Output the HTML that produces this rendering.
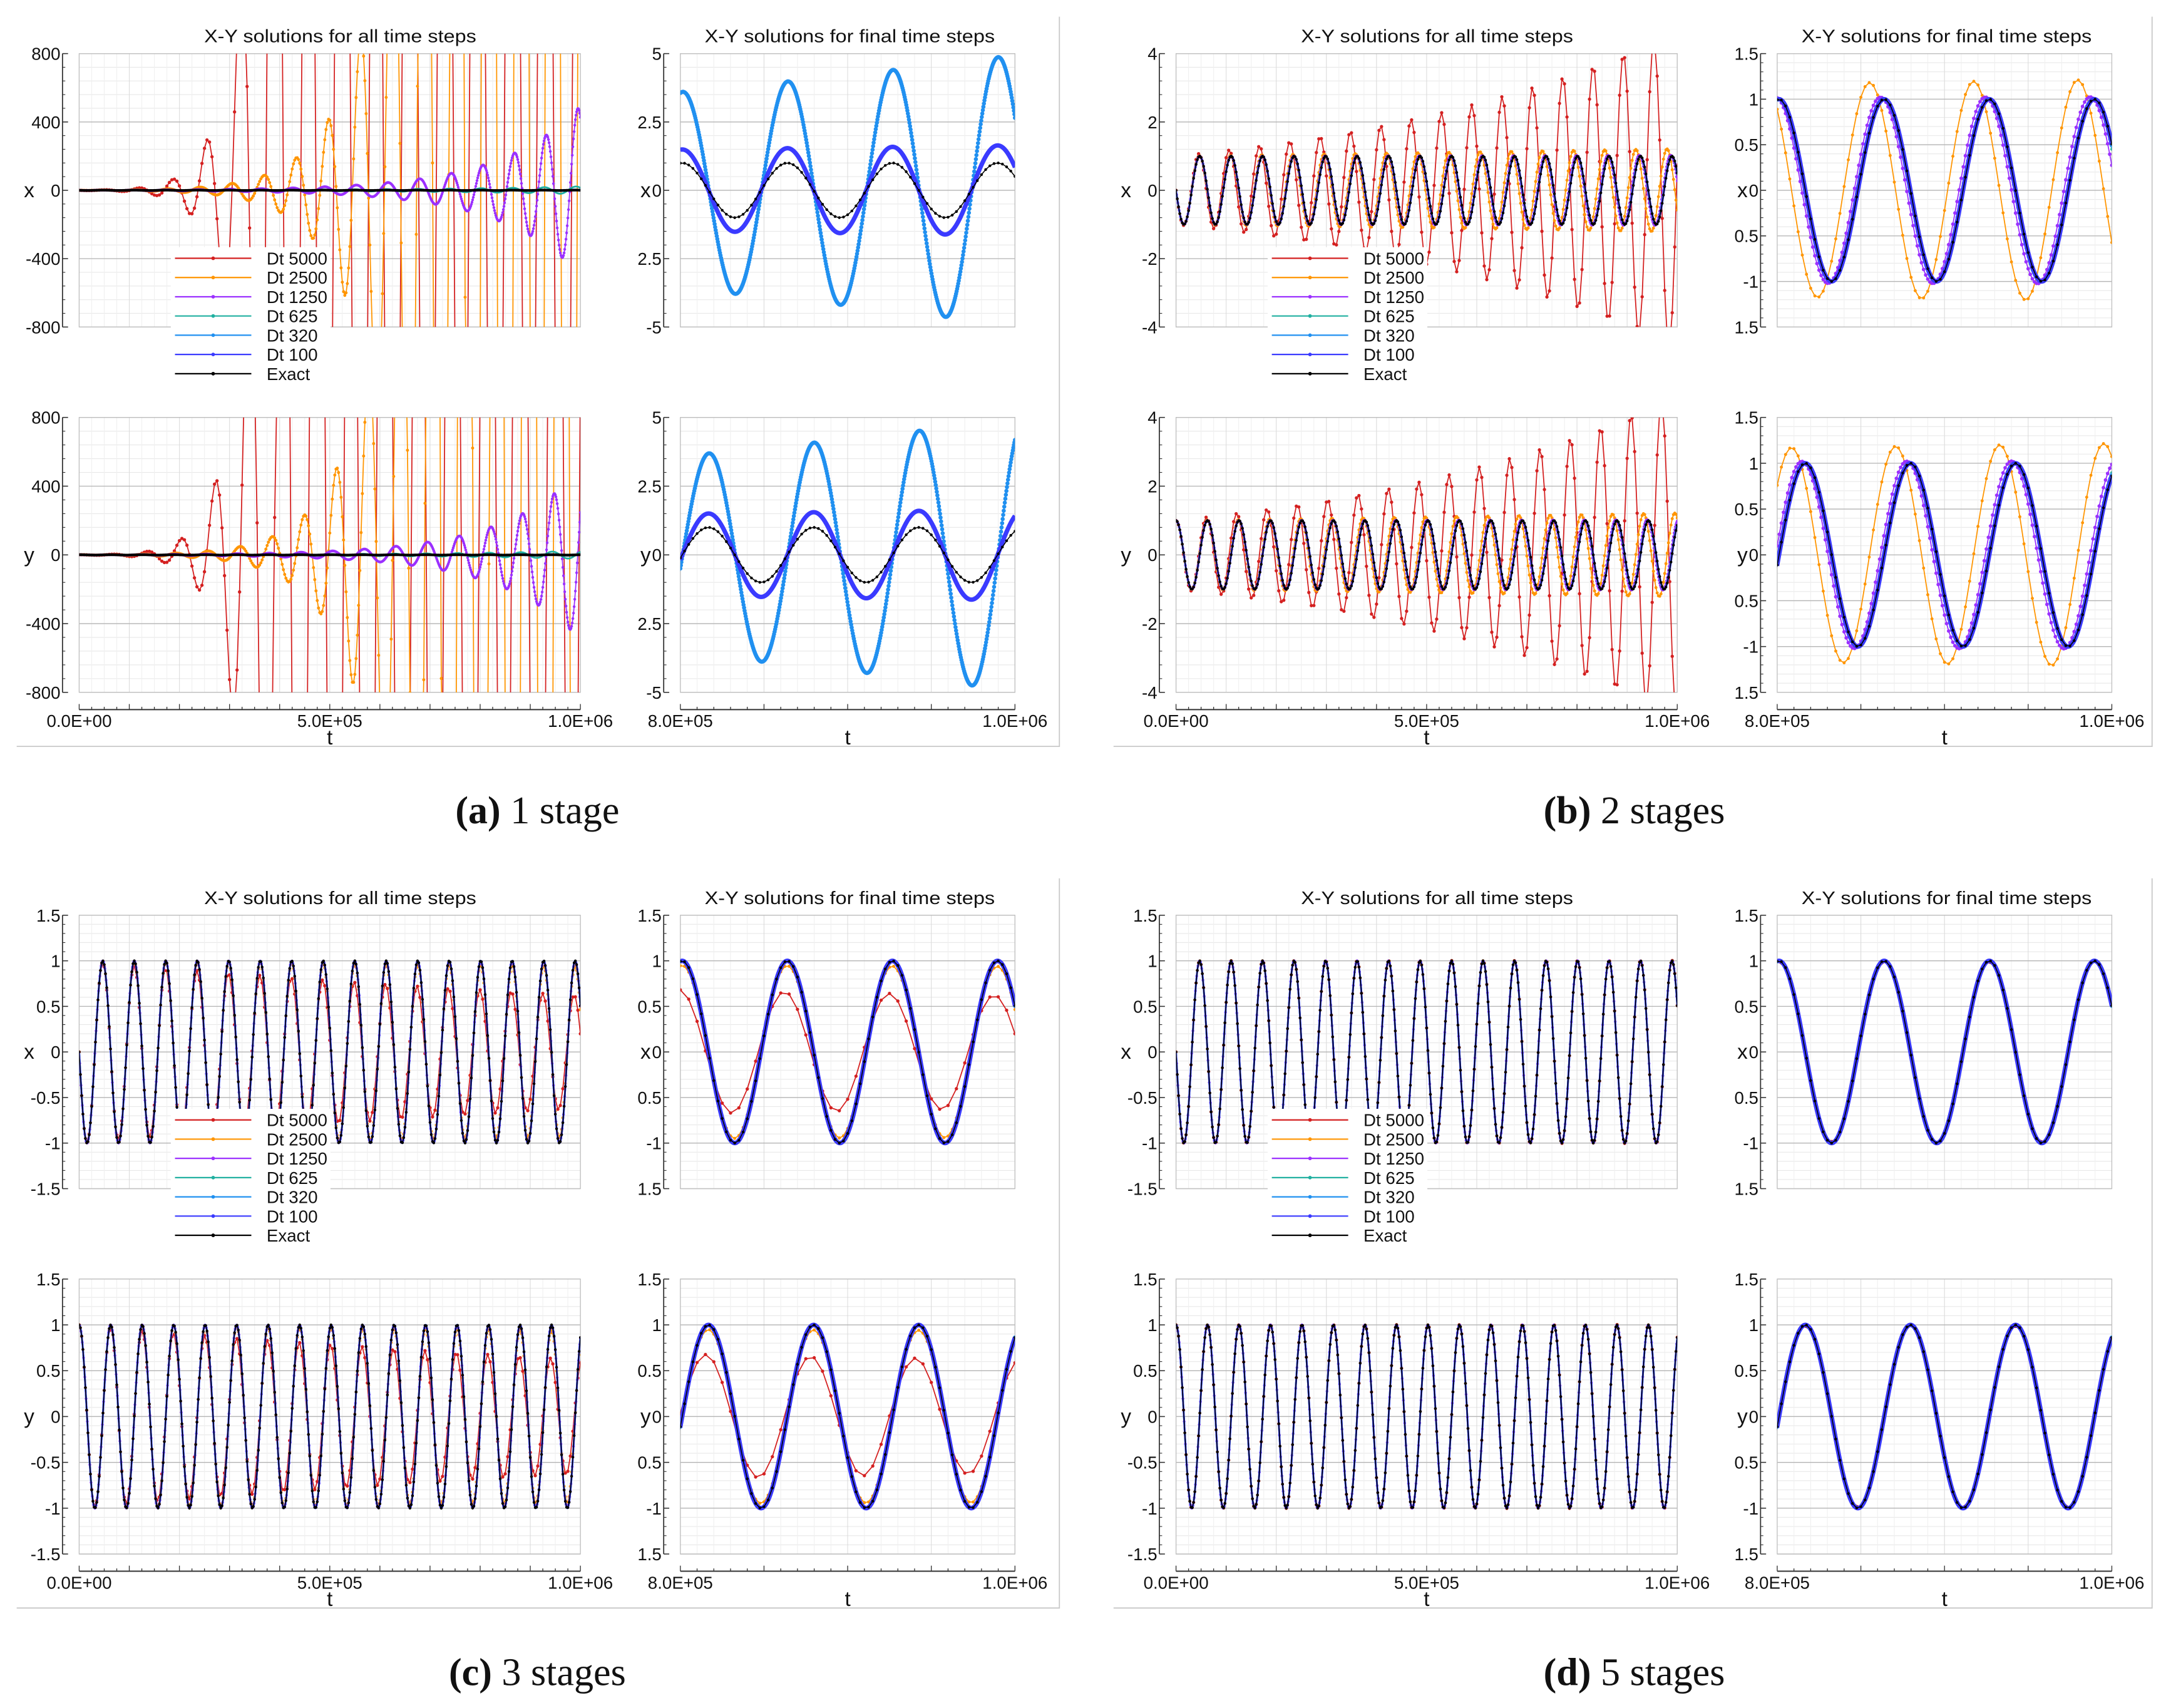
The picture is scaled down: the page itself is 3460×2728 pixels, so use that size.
<!DOCTYPE html>
<html>
<head>
<meta charset="utf-8">
<style>
  html,body{margin:0;padding:0;background:#fff;width:3460px;height:2728px;overflow:hidden;}
  svg{display:block;}
  text{font-family:"Liberation Sans",sans-serif;}
  .cap{font-family:"Liberation Serif",serif;}
</style>
</head>
<body>
<svg id="fig" xmlns="http://www.w3.org/2000/svg" width="3460" height="2728" viewBox="0 0 1560 1230" overflow="hidden"></svg>
<script>
// ---------- data ----------
const seriesNames = ["Dt 5000","Dt 2500","Dt 1250","Dt 625","Dt 320","Dt 100","Exact"];
const dtValues = [5000,2500,1250,625,320,100];
const exactSampleDt = 2500;
const stageCounts = [1,2,3,5];
const panelLetters = ["(a)","(b)","(c)","(d)"];
const panelCaptions = [" 1 stage"," 2 stages"," 3 stages"," 5 stages"];
const omega = 1e-4;
const tStart = 0;
const tEnd = 1e6;
const tFinalStart = 8e5;
const fullTickVals = [[800,400,0,-400,-800],[4,2,0,-2,-4],[1.5,1,0.5,0,-0.5,-1,-1.5],[1.5,1,0.5,0,-0.5,-1,-1.5]];
const fullTickLabels = [["800","400","0","-400","-800"],["4","2","0","-2","-4"],["1.5","1","0.5","0","-0.5","-1","-1.5"],["1.5","1","0.5","0","-0.5","-1","-1.5"]];
const fullMinorStep = [80,0.4,0.1,0.1];
const finalTickVals = [[5,2.5,0,-2.5,-5],[1.5,1,0.5,0,-0.5,-1,-1.5],[1.5,1,0.5,0,-0.5,-1,-1.5],[1.5,1,0.5,0,-0.5,-1,-1.5]];
const finalTickLabels = [["5","2.5","0","2.5","-5"],["1.5","1","0.5","0","0.5","-1","1.5"],["1.5","1","0.5","0","0.5","-1","1.5"],["1.5","1","0.5","0","0.5","-1","1.5"]];
const finalMinorStep = [0.5,0.1,0.1,0.1];
const finalVisibleSeries = [[4,5,6],[1,2,3,4,5,6],[0,1,2,3,4,5,6],[0,1,2,3,4,5,6]];
const fullXTickVals = [0,5e5,1e6];
const fullXTickLabels = ["0.0E+00","5.0E+05","1.0E+06"];
const finalXTickVals = [8e5,1e6];
const finalXTickLabels = ["8.0E+05","1.0E+06"];

// ---------- styles ----------
const colors = ["#d42020","#ff9500","#9b30ff","#20b0a0","#2090f0","#3a3aff","#000000"];
const lineW = [0.8,0.8,0.8,0.8,0.8,1.0,0.7];
const markD = [2.4,2.2,2.6,2.2,3.0,3.2,2.0];

const NS = "http://www.w3.org/2000/svg";
const svg = document.getElementById("fig");
function mk(parent, tag, attrs){
  const e = document.createElementNS(NS, tag);
  for (const k in attrs) e.setAttribute(k, attrs[k]);
  parent.appendChild(e);
  return e;
}

function simulate(stages, dt){
  const w = omega*dt;
  let pr=0, pi=0, tr=1, ti=0;
  for (let k=0;k<=stages;k++){
    pr+=tr; pi+=ti;
    const nr = -ti*w/(k+1), ni = tr*w/(k+1);
    tr=nr; ti=ni;
  }
  const n = Math.round(tEnd/dt);
  const T=[],X=[],Y=[];
  let zr=0, zi=1;
  for (let j=0;j<=n;j++){
    T.push(j*dt); X.push(zr); Y.push(zi);
    const a = zr*pr - zi*pi, b = zr*pi + zi*pr;
    zr=a; zi=b;
  }
  return {T,X,Y};
}
function exactSeries(){
  const T=[],X=[],Y=[];
  for (let t=tStart;t<=tEnd+1;t+=exactSampleDt){T.push(t);X.push(-Math.sin(omega*t));Y.push(Math.cos(omega*t));}
  return {T,X,Y};
}

const panelOffsetX = [0,790,0,790];
const panelOffsetY = [0,0,620.5,620.5];
const fullFrame = {x0:57,x1:418};
const finalFrame = {x0:490,x1:731};
const rowFrames = [{y0:38.6,y1:235.5},{y0:300.6,y1:498.6}];
let clipId = 0;

function drawPlot(g, p, row, kind, data){
  const fr = kind==="full"?fullFrame:finalFrame;
  const rf = rowFrames[row];
  const tv = kind==="full"?fullTickVals[p]:finalTickVals[p];
  const tl = kind==="full"?fullTickLabels[p]:finalTickLabels[p];
  const minor = kind==="full"?fullMinorStep[p]:finalMinorStep[p];
  const yMax = tv[0], yMin = tv[tv.length-1];
  const t0 = kind==="full"?tStart:tFinalStart, t1 = tEnd;
  const sx = t=> fr.x0 + (t-t0)/(t1-t0)*(fr.x1-fr.x0);
  const sy = v=> rf.y0 + (yMax-v)/(yMax-yMin)*(rf.y1-rf.y0);

  const pg = mk(g,"g",{});
  
  

  const nMin = Math.round((yMax-yMin)/minor);
  for (let k=0;k<=nMin;k++){
    const v = yMin + k*minor, y = sy(v);
    const l = mk(pg,"line",{x1:fr.x0,x2:fr.x1,y1:y,y2:y,stroke:"#e8e8e8","stroke-width":0.5});
    
    
    const tk = mk(pg,"line",{x1:fr.x0-12,x2:fr.x0-10,y1:y,y2:y,stroke:"#333","stroke-width":0.5});
    
    
  }
  const vStep = kind==="full"?1e5:5e4, vMinor = kind==="full"?2.5e4:1e4;
  for (let t=t0;t<=t1+1;t+=vMinor){
    const x=sx(t);
    const major = Math.abs((t-t0)/vStep - Math.round((t-t0)/vStep))<1e-6;
    const l = mk(pg,"line",{x1:x,x2:x,y1:rf.y0,y2:rf.y1,stroke:major?"#dcdcdc":"#f0f0f0","stroke-width":0.5});
    
    
  }
  tv.forEach((v,i)=>{
    const y = sy(v);
    const l = mk(pg,"line",{x1:fr.x0,x2:fr.x1,y1:y,y2:y,stroke:"#b4b4b4","stroke-width":0.6});
    
    
    const tk = mk(pg,"line",{x1:fr.x0-12,x2:fr.x0-8,y1:y,y2:y,stroke:"#333","stroke-width":0.7});
    
    
    const tx = mk(pg,"text",{x:fr.x0-13.5,y:y+4.5,"font-size":12.5,"text-anchor":"end",fill:"#111"});
    tx.textContent = tl[i];
    
    
  });
  const fRect = mk(pg,"rect",{x:fr.x0,y:rf.y0,width:fr.x1-fr.x0,height:rf.y1-rf.y0,fill:"none",stroke:"#c0c0c0","stroke-width":0.6});
  
  
  const ax = mk(pg,"line",{x1:fr.x0-12,x2:fr.x0-12,y1:rf.y0,y2:rf.y1,stroke:"#333","stroke-width":0.8});
  
  
  const yt = mk(pg,"text",{x:kind==="full"?fr.x0-36:fr.x0-25,y:sy(0)+5,"font-size":15,"text-anchor":"middle",fill:"#111"});
  yt.textContent = row===0?"x":"y";
  
  

  clipId++;
  const cp = mk(pg,"clipPath",{id:"c"+clipId});
  mk(cp,"rect",{x:fr.x0,y:rf.y0,width:fr.x1-fr.x0,height:rf.y1-rf.y0});
  const sg = mk(pg,"g",{"clip-path":"url(#c"+clipId+")"});
  
  

  const visible = kind==="full"?[0,1,2,3,4,5,6]:finalVisibleSeries[p];
  const clamp = v=>Math.max(rf.y0-30,Math.min(rf.y1+30,v));
  visible.forEach(si=>{
    const d = data[si];
    const V = row===0?d.X:d.Y;
    let path="", marks="", cnt=0;
    for (let j=0;j<d.T.length;j++){
      const t=d.T[j];
      if (t < t0 - (si<6?dtValues[si]:exactSampleDt)) continue;
      const x=Math.max(fr.x0-10,sx(t)).toFixed(2), y=clamp(sy(V[j])).toFixed(2);
      path += (path?"L":"M")+x+" "+y;
      if (t>=t0) { marks += "M"+x+" "+y+"h0"; cnt++; }
    }
    const density = cnt/(fr.x1-fr.x0);
    const dense = density>3;
    const denseW = kind==="full" ? 1.3 : markD[si];
    const ln = mk(sg,"path",{d:path,fill:"none",stroke:colors[si],"stroke-width":dense?denseW:lineW[si],"stroke-linejoin":"round"});
    
    
    if (!dense){
      const md = (kind==="full" && density>1.5) ? Math.min(markD[si],2.0) : markD[si];
      const mkp = mk(sg,"path",{d:marks,fill:"none",stroke:colors[si],"stroke-width":md,"stroke-linecap":"round"});
      
      
    }
  });

  if (row===1){
    const xa = mk(pg,"line",{x1:fr.x0,x2:fr.x1,y1:511,y2:511,stroke:"#333","stroke-width":0.9});
    
    
    for (let t=t0;t<=t1+1;t+=vMinor){
      const x=sx(t);
      const major = Math.abs((t-t0)/vStep - Math.round((t-t0)/vStep))<1e-6;
      const tk = mk(pg,"line",{x1:x,x2:x,y1:511,y2:major?507:509,stroke:"#333","stroke-width":0.6});
      
      
    }
    const xv = kind==="full"?fullXTickVals:finalXTickVals;
    const xl = kind==="full"?fullXTickLabels:finalXTickLabels;
    xv.forEach((t,i)=>{
      const tx = mk(pg,"text",{x:sx(t),y:523.5,"font-size":12.5,"text-anchor":"middle",fill:"#111"});
      tx.textContent = xl[i];
      
      
    });
    const xt = mk(pg,"text",{x:(fr.x0+fr.x1)/2,y:536,"font-size":15,"text-anchor":"middle",fill:"#111"});
    xt.textContent = "t";
    
    
  }
}

function drawLegend(g){
  const lg = mk(g,"g",{});
  
  
  const bg = mk(lg,"rect",{x:123,y:178,width:115,height:98,fill:"#fff"});
  
  
  seriesNames.forEach((nm,i)=>{
    const y = 186 + i*13.85;
    const l = mk(lg,"line",{x1:126,x2:181,y1:y,y2:y,stroke:colors[i],"stroke-width":1});
    
    
    const c = mk(lg,"circle",{cx:153.5,cy:y,r:1.3,fill:colors[i]});
    
    
    const t = mk(lg,"text",{x:192,y:y+4.5,"font-size":12.5,fill:"#111"});
    t.textContent = nm;
    
    
  });
}

stageCounts.forEach((s,p)=>{
  const g = mk(svg,"g",{transform:"translate("+panelOffsetX[p]+","+panelOffsetY[p]+")"});
  
  
  const data = dtValues.map(dt=>simulate(s,dt));
  data.push(exactSeries());

  const bx = p%2===0?763:760;
  const bl = mk(g,"polyline",{points:"12,537.5 "+bx+",537.5 "+bx+",12",fill:"none",stroke:"#c8c8c8","stroke-width":0.8});
  
  

  const t1 = mk(g,"text",{x:245,y:30.5,"font-size":13,"text-anchor":"middle",fill:"#111",textLength:196,lengthAdjust:"spacingAndGlyphs"});
  t1.textContent = "X-Y solutions for all time steps";
  
  
  const t2 = mk(g,"text",{x:612,y:30.5,"font-size":13,"text-anchor":"middle",fill:"#111",textLength:209,lengthAdjust:"spacingAndGlyphs"});
  t2.textContent = "X-Y solutions for final time steps";
  
  

  drawPlot(g,p,0,"full",data);
  drawPlot(g,p,1,"full",data);
  drawPlot(g,p,0,"final",data);
  drawPlot(g,p,1,"final",data);
  drawLegend(g);

  const cap = mk(g,"text",{x:387,y:593,"font-size":28,"text-anchor":"middle",fill:"#111","class":"cap"});
  
  
  const b = mk(cap,"tspan",{"font-weight":"bold"});
  b.textContent = panelLetters[p];
  const r = mk(cap,"tspan",{});
  r.textContent = panelCaptions[p];
});
</script>
</body>
</html>
